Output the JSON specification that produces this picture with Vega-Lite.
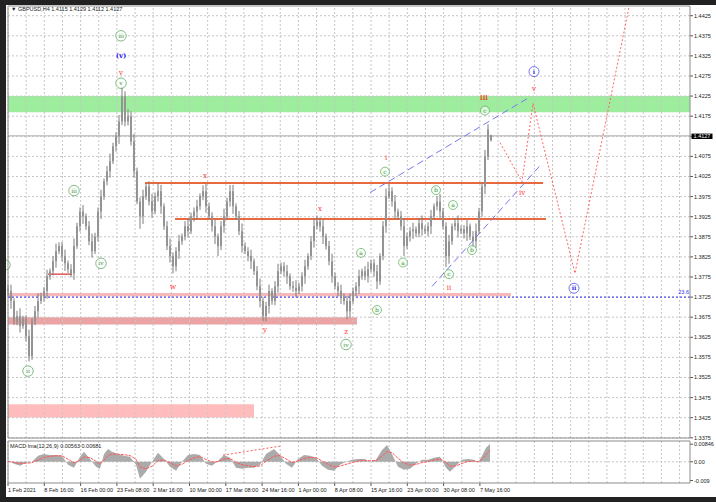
{
"$schema": "https://vega.github.io/schema/vega-lite/v6.json",
"width": 710, "height": 492,
"autosize": {"type": "none"},
"padding": {"left": 6, "top": 5, "right": 0, "bottom": 5},
"background": "#222222",
"config": {"view": {"fill": "#ffffff", "stroke": null}},
"datasets": {
"candles": [
{"i":0,"o":1.3745,"h":1.3755,"l":1.3727,"c":1.374},{"i":3,"o":1.374,"h":1.3756,"l":1.3696,"c":1.3715},{"i":6,"o":1.3715,"h":1.3722,"l":1.3656,"c":1.3665},{"i":9,"o":1.3665,"h":1.3691,"l":1.3655,"c":1.3678},{"i":12,"o":1.3678,"h":1.3697,"l":1.3637,"c":1.3653},{"i":15,"o":1.3653,"h":1.3679,"l":1.3646,"c":1.367},{"i":18,"o":1.367,"h":1.368,"l":1.3615,"c":1.3628},{"i":21,"o":1.3628,"h":1.3644,"l":1.3565,"c":1.3578},{"i":24,"o":1.3578,"h":1.3672,"l":1.3569,"c":1.3665},{"i":27,"o":1.3665,"h":1.3703,"l":1.3655,"c":1.369},
{"i":30,"o":1.369,"h":1.3734,"l":1.3674,"c":1.3715},{"i":33,"o":1.3715,"h":1.3736,"l":1.3708,"c":1.3727},{"i":36,"o":1.3727,"h":1.375,"l":1.3714,"c":1.374},{"i":39,"o":1.374,"h":1.3793,"l":1.3721,"c":1.3777},{"i":42,"o":1.3777,"h":1.3796,"l":1.3768,"c":1.3789},{"i":45,"o":1.3789,"h":1.3827,"l":1.3779,"c":1.3814},{"i":48,"o":1.3814,"h":1.3858,"l":1.3798,"c":1.3839},{"i":51,"o":1.3839,"h":1.3861,"l":1.3832,"c":1.3852},{"i":54,"o":1.3852,"h":1.3862,"l":1.3814,"c":1.3827},{"i":57,"o":1.3827,"h":1.3843,"l":1.379,"c":1.3809},
{"i":60,"o":1.3809,"h":1.3816,"l":1.3785,"c":1.3794},{"i":63,"o":1.3794,"h":1.3807,"l":1.3774,"c":1.3784},{"i":66,"o":1.3784,"h":1.3871,"l":1.3768,"c":1.3852},{"i":69,"o":1.3852,"h":1.391,"l":1.3845,"c":1.3901},{"i":72,"o":1.3901,"h":1.3948,"l":1.3888,"c":1.3938},{"i":75,"o":1.3938,"h":1.3954,"l":1.3907,"c":1.3926},{"i":78,"o":1.3926,"h":1.3933,"l":1.3892,"c":1.3901},{"i":81,"o":1.3901,"h":1.3914,"l":1.3854,"c":1.3864},{"i":84,"o":1.3864,"h":1.3883,"l":1.3823,"c":1.3839},{"i":87,"o":1.3839,"h":1.3885,"l":1.3832,"c":1.3876},
{"i":90,"o":1.3876,"h":1.3948,"l":1.3863,"c":1.3938},{"i":93,"o":1.3938,"h":1.3992,"l":1.3919,"c":1.3976},{"i":96,"o":1.3976,"h":1.402,"l":1.3967,"c":1.4013},{"i":99,"o":1.4013,"h":1.4051,"l":1.4003,"c":1.4038},{"i":102,"o":1.4038,"h":1.4082,"l":1.4022,"c":1.4063},{"i":105,"o":1.4063,"h":1.4109,"l":1.4056,"c":1.41},{"i":108,"o":1.41,"h":1.4135,"l":1.4087,"c":1.4125},{"i":111,"o":1.4125,"h":1.4178,"l":1.4106,"c":1.4162},{"i":114,"o":1.4162,"h":1.4249,"l":1.4153,"c":1.4224},{"i":117,"o":1.4224,"h":1.4237,"l":1.415,"c":1.4162},
{"i":120,"o":1.4162,"h":1.4192,"l":1.4152,"c":1.4174},{"i":123,"o":1.4174,"h":1.4187,"l":1.4102,"c":1.4112},{"i":126,"o":1.4112,"h":1.4131,"l":1.4022,"c":1.4038},{"i":129,"o":1.4038,"h":1.4047,"l":1.3956,"c":1.3963},{"i":132,"o":1.3963,"h":1.3973,"l":1.3895,"c":1.3926},{"i":135,"o":1.3926,"h":1.3992,"l":1.3907,"c":1.3976},{"i":138,"o":1.3976,"h":1.4007,"l":1.3967,"c":1.4},{"i":141,"o":1.4,"h":1.4013,"l":1.3953,"c":1.3963},{"i":144,"o":1.3963,"h":1.3982,"l":1.3922,"c":1.3938},{"i":147,"o":1.3938,"h":1.3985,"l":1.3931,"c":1.3976},
{"i":150,"o":1.3976,"h":1.4008,"l":1.3963,"c":1.3988},{"i":153,"o":1.3988,"h":1.4004,"l":1.3932,"c":1.3951},{"i":156,"o":1.3951,"h":1.3958,"l":1.3892,"c":1.3901},{"i":159,"o":1.3901,"h":1.3914,"l":1.3842,"c":1.3852},{"i":162,"o":1.3852,"h":1.3871,"l":1.3811,"c":1.3827},{"i":165,"o":1.3827,"h":1.3836,"l":1.3784,"c":1.3802},{"i":168,"o":1.3802,"h":1.3849,"l":1.3789,"c":1.3839},{"i":171,"o":1.3839,"h":1.388,"l":1.382,"c":1.3864},{"i":174,"o":1.3864,"h":1.3883,"l":1.3855,"c":1.3876},{"i":177,"o":1.3876,"h":1.3914,"l":1.3866,"c":1.3901},
{"i":180,"o":1.3901,"h":1.392,"l":1.3873,"c":1.3889},{"i":183,"o":1.3889,"h":1.3935,"l":1.3882,"c":1.3926},{"i":186,"o":1.3926,"h":1.3948,"l":1.3913,"c":1.3938},{"i":189,"o":1.3938,"h":1.3967,"l":1.3919,"c":1.3951},{"i":192,"o":1.3951,"h":1.3983,"l":1.3942,"c":1.3976},{"i":195,"o":1.3976,"h":1.4003,"l":1.3966,"c":1.3988},{"i":198,"o":1.3988,"h":1.4007,"l":1.3935,"c":1.3951},{"i":201,"o":1.3951,"h":1.396,"l":1.3919,"c":1.3926},{"i":204,"o":1.3926,"h":1.3936,"l":1.3888,"c":1.3901},{"i":207,"o":1.3901,"h":1.3917,"l":1.3857,"c":1.3876},
{"i":210,"o":1.3876,"h":1.3883,"l":1.3827,"c":1.3852},{"i":213,"o":1.3852,"h":1.3914,"l":1.3842,"c":1.3901},{"i":216,"o":1.3901,"h":1.3945,"l":1.3885,"c":1.3926},{"i":219,"o":1.3926,"h":1.3972,"l":1.3919,"c":1.3963},{"i":222,"o":1.3963,"h":1.4004,"l":1.395,"c":1.3988},{"i":225,"o":1.3988,"h":1.4004,"l":1.3932,"c":1.3951},{"i":228,"o":1.3951,"h":1.3958,"l":1.3917,"c":1.3926},{"i":231,"o":1.3926,"h":1.3939,"l":1.3879,"c":1.3889},{"i":234,"o":1.3889,"h":1.3908,"l":1.3836,"c":1.3852},{"i":237,"o":1.3852,"h":1.3861,"l":1.3832,"c":1.3839},
{"i":240,"o":1.3839,"h":1.3849,"l":1.3814,"c":1.3827},{"i":243,"o":1.3827,"h":1.3843,"l":1.3795,"c":1.3814},{"i":246,"o":1.3814,"h":1.3821,"l":1.378,"c":1.3789},{"i":249,"o":1.3789,"h":1.3802,"l":1.3742,"c":1.3752},{"i":252,"o":1.3752,"h":1.3771,"l":1.3699,"c":1.3715},{"i":255,"o":1.3715,"h":1.3724,"l":1.3665,"c":1.3678},{"i":258,"o":1.3678,"h":1.3713,"l":1.3665,"c":1.3703},{"i":261,"o":1.3703,"h":1.3756,"l":1.3684,"c":1.374},{"i":264,"o":1.374,"h":1.3747,"l":1.3706,"c":1.3715},{"i":267,"o":1.3715,"h":1.3765,"l":1.3705,"c":1.3752},
{"i":270,"o":1.3752,"h":1.3808,"l":1.3736,"c":1.3789},{"i":273,"o":1.3789,"h":1.3811,"l":1.3782,"c":1.3802},{"i":276,"o":1.3802,"h":1.3812,"l":1.3776,"c":1.3789},{"i":279,"o":1.3789,"h":1.3805,"l":1.3758,"c":1.3777},{"i":282,"o":1.3777,"h":1.3784,"l":1.3743,"c":1.3752},{"i":285,"o":1.3752,"h":1.3765,"l":1.3738,"c":1.3748},{"i":288,"o":1.3748,"h":1.3767,"l":1.3724,"c":1.374},{"i":291,"o":1.374,"h":1.3761,"l":1.3733,"c":1.3752},{"i":294,"o":1.3752,"h":1.3787,"l":1.3739,"c":1.3777},{"i":297,"o":1.3777,"h":1.3818,"l":1.3758,"c":1.3802},
{"i":300,"o":1.3802,"h":1.3834,"l":1.3793,"c":1.3827},{"i":303,"o":1.3827,"h":1.3877,"l":1.3817,"c":1.3864},{"i":306,"o":1.3864,"h":1.392,"l":1.3848,"c":1.3901},{"i":309,"o":1.3901,"h":1.3928,"l":1.3894,"c":1.3913},{"i":312,"o":1.3913,"h":1.3923,"l":1.3888,"c":1.3901},{"i":315,"o":1.3901,"h":1.3917,"l":1.3857,"c":1.3876},{"i":318,"o":1.3876,"h":1.3883,"l":1.3843,"c":1.3852},{"i":321,"o":1.3852,"h":1.3865,"l":1.3804,"c":1.3814},{"i":324,"o":1.3814,"h":1.3833,"l":1.3761,"c":1.3777},{"i":327,"o":1.3777,"h":1.3786,"l":1.3745,"c":1.3752},
{"i":330,"o":1.3752,"h":1.3762,"l":1.3727,"c":1.374},{"i":333,"o":1.374,"h":1.3756,"l":1.3708,"c":1.3727},{"i":336,"o":1.3727,"h":1.3734,"l":1.3706,"c":1.3715},{"i":339,"o":1.3715,"h":1.3728,"l":1.367,"c":1.369},{"i":342,"o":1.369,"h":1.3734,"l":1.3674,"c":1.3715},{"i":345,"o":1.3715,"h":1.3749,"l":1.3708,"c":1.374},{"i":348,"o":1.374,"h":1.3762,"l":1.3727,"c":1.3752},{"i":351,"o":1.3752,"h":1.3793,"l":1.3733,"c":1.3777},{"i":354,"o":1.3777,"h":1.3796,"l":1.3768,"c":1.3789},{"i":357,"o":1.3789,"h":1.3802,"l":1.3767,"c":1.3777},
{"i":360,"o":1.3777,"h":1.3813,"l":1.3761,"c":1.3794},{"i":363,"o":1.3794,"h":1.3818,"l":1.3787,"c":1.3809},{"i":366,"o":1.3809,"h":1.3819,"l":1.3776,"c":1.3789},{"i":369,"o":1.3789,"h":1.3805,"l":1.3745,"c":1.3764},{"i":372,"o":1.3764,"h":1.3834,"l":1.3755,"c":1.3827},{"i":375,"o":1.3827,"h":1.3914,"l":1.3817,"c":1.3901},{"i":378,"o":1.3901,"h":1.3995,"l":1.3885,"c":1.3976},{"i":381,"o":1.3976,"h":1.4006,"l":1.3969,"c":1.3988},{"i":384,"o":1.3988,"h":1.3998,"l":1.395,"c":1.3963},{"i":387,"o":1.3963,"h":1.3979,"l":1.3919,"c":1.3938},
{"i":390,"o":1.3938,"h":1.3945,"l":1.3917,"c":1.3926},{"i":393,"o":1.3926,"h":1.3939,"l":1.3891,"c":1.3901},{"i":396,"o":1.3901,"h":1.392,"l":1.3827,"c":1.3852},{"i":399,"o":1.3852,"h":1.3885,"l":1.3845,"c":1.3876},{"i":402,"o":1.3876,"h":1.3899,"l":1.3863,"c":1.3889},{"i":405,"o":1.3889,"h":1.391,"l":1.387,"c":1.3894},{"i":408,"o":1.3894,"h":1.3901,"l":1.3875,"c":1.3884},{"i":411,"o":1.3884,"h":1.3922,"l":1.3874,"c":1.3909},{"i":414,"o":1.3909,"h":1.3928,"l":1.3878,"c":1.3894},{"i":417,"o":1.3894,"h":1.3903,"l":1.3882,"c":1.3889},
{"i":420,"o":1.3889,"h":1.3911,"l":1.3876,"c":1.3901},{"i":423,"o":1.3901,"h":1.3942,"l":1.3882,"c":1.3926},{"i":426,"o":1.3926,"h":1.3958,"l":1.3917,"c":1.3951},{"i":429,"o":1.3951,"h":1.3976,"l":1.3941,"c":1.3963},{"i":432,"o":1.3963,"h":1.3982,"l":1.3922,"c":1.3938},{"i":435,"o":1.3938,"h":1.3947,"l":1.3894,"c":1.3901},{"i":438,"o":1.3901,"h":1.3911,"l":1.38,"c":1.3827},{"i":441,"o":1.3827,"h":1.388,"l":1.3808,"c":1.3864},{"i":444,"o":1.3864,"h":1.3908,"l":1.3855,"c":1.3901},{"i":447,"o":1.3901,"h":1.3922,"l":1.3891,"c":1.3909},
{"i":450,"o":1.3909,"h":1.3928,"l":1.3873,"c":1.3889},{"i":453,"o":1.3889,"h":1.3903,"l":1.3882,"c":1.3894},{"i":456,"o":1.3894,"h":1.3904,"l":1.3871,"c":1.3884},{"i":459,"o":1.3884,"h":1.3917,"l":1.3865,"c":1.3901},{"i":462,"o":1.3901,"h":1.3908,"l":1.3867,"c":1.3876},{"i":465,"o":1.3876,"h":1.3889,"l":1.3849,"c":1.3864},{"i":468,"o":1.3864,"h":1.3908,"l":1.3848,"c":1.3889},{"i":471,"o":1.3889,"h":1.3947,"l":1.3882,"c":1.3938},{"i":474,"o":1.3938,"h":1.401,"l":1.3925,"c":1.4},{"i":477,"o":1.4,"h":1.4091,"l":1.3981,"c":1.4075},
{"i":480,"o":1.4075,"h":1.4155,"l":1.4066,"c":1.4142},{"i":483,"o":1.4115,"h":1.4129,"l":1.4112,"c":1.4127}
],
"macd": [
{"i":0,"h":0.0005,"s":0.0002},{"i":6,"h":-0.001,"s":-0.0003},{"i":12,"h":-0.0019,"s":-0.0009},{"i":18,"h":-0.0005,"s":-0.0007},{"i":24,"h":0,"s":-0.0004},{"i":30,"h":0.0029,"s":0.0009},{"i":36,"h":0.0038,"s":0.0021},{"i":42,"h":0.0033,"s":0.0026},{"i":48,"h":0.0033,"s":0.0029},{"i":54,"h":0.0029,"s":0.0029},
{"i":60,"h":-0.0014,"s":0.0012},{"i":66,"h":-0.0029,"s":-0.0005},{"i":72,"h":0.0024,"s":0.0007},{"i":76,"h":0.0048,"s":0.0023},{"i":82,"h":0.0014,"s":0.002},{"i":88,"h":-0.0024,"s":0.0002},{"i":92,"h":-0.0033,"s":-0.0012},{"i":96,"h":0.0038,"s":0.0008},{"i":100,"h":0.0062,"s":0.003},{"i":104,"h":0.0048,"s":0.0037},
{"i":110,"h":0.0038,"s":0.0037},{"i":116,"h":0.0029,"s":0.0034},{"i":122,"h":0.0024,"s":0.003},{"i":128,"h":-0.0014,"s":0.0012},{"i":132,"h":-0.0081,"s":-0.0025},{"i":138,"h":-0.0048,"s":-0.0034},{"i":144,"h":0,"s":-0.0021},{"i":150,"h":0.0043,"s":0.0005},{"i":156,"h":0.0014,"s":0.0009},{"i":162,"h":-0.0024,"s":-0.0004},
{"i":168,"h":-0.0043,"s":-0.002},{"i":174,"h":0,"s":-0.0012},{"i":180,"h":0.0033,"s":0.0006},{"i":186,"h":0.0038,"s":0.0019},{"i":192,"h":0.0033,"s":0.0025},{"i":198,"h":-0.001,"s":0.0011},{"i":204,"h":-0.0019,"s":-0.0001},{"i":210,"h":0.0005,"s":0.0001},{"i":216,"h":0.0033,"s":0.0014},{"i":222,"h":0.0019,"s":0.0016},
{"i":228,"h":-0.0029,"s":-0.0002},{"i":234,"h":-0.0033,"s":-0.0014},{"i":240,"h":-0.0029,"s":-0.002},{"i":246,"h":-0.0029,"s":-0.0023},{"i":252,"h":-0.0014,"s":-0.002},{"i":258,"h":0.0038,"s":0.0003},{"i":266,"h":0.0062,"s":0.0027},{"i":272,"h":0.0033,"s":0.003},{"i":278,"h":-0.001,"s":0.0014},{"i":284,"h":-0.0029,"s":-0.0003},
{"i":290,"h":0.0014,"s":0.0004},{"i":296,"h":0.0033,"s":0.0016},{"i":302,"h":0.0029,"s":0.0021},{"i":308,"h":0.0019,"s":0.002},{"i":314,"h":-0.0019,"s":0.0004},{"i":320,"h":-0.0038,"s":-0.0012},{"i":326,"h":-0.0043,"s":-0.0025},{"i":332,"h":-0.0014,"s":-0.0021},{"i":338,"h":0,"s":-0.0012},{"i":344,"h":0.001,"s":-0.0004},
{"i":350,"h":0.0014,"s":0.0003},{"i":356,"h":0.0014,"s":0.0008},{"i":362,"h":0,"s":0.0005},{"i":368,"h":0.001,"s":0.0007},{"i":374,"h":0.0057,"s":0.0027},{"i":379,"h":0.0081,"s":0.0049},{"i":384,"h":0.0038,"s":0.0044},{"i":390,"h":-0.0024,"s":0.0017},{"i":396,"h":-0.0038,"s":-0.0005},{"i":402,"h":-0.0033,"s":-0.0016},
{"i":408,"h":-0.001,"s":-0.0013},{"i":414,"h":0.001,"s":-0.0004},{"i":420,"h":0.001,"s":0.0001},{"i":426,"h":0.0019,"s":0.0009},{"i":432,"h":0.0024,"s":0.0015},{"i":438,"h":-0.0029,"s":-0.0002},{"i":442,"h":-0.0048,"s":-0.0021},{"i":448,"h":-0.0019,"s":-0.002},{"i":454,"h":0.001,"s":-0.0008},{"i":460,"h":0.0014,"s":0.0001},
{"i":466,"h":0.001,"s":0.0004},{"i":470,"h":-0.0005,"s":0},{"i":474,"h":0.0029,"s":0.0012},{"i":478,"h":0.0067,"s":0.0034},{"i":482,"h":0.0085,"s":0.0055}
],
"hgrid": [{"p":1.3375},{"p":1.3425},{"p":1.3475},{"p":1.3525},{"p":1.3575},{"p":1.3625},{"p":1.3675},{"p":1.3725},{"p":1.3775},{"p":1.3825},{"p":1.3875},{"p":1.3925},{"p":1.3975},{"p":1.4025},{"p":1.4075},{"p":1.4125},{"p":1.4175},{"p":1.4225},{"p":1.4275},{"p":1.4325},{"p":1.4375},{"p":1.4425}],
"vgrid": [{"g":0},{"g":18.15},{"g":36.3},{"g":54.45},{"g":72.6},{"g":90.75},{"g":108.9},{"g":127.05},{"g":145.2},{"g":163.35},{"g":181.5},{"g":199.65},{"g":217.8},{"g":235.95},{"g":254.1},{"g":272.25},{"g":290.4},{"g":308.55},{"g":326.7},{"g":344.85},{"g":363},{"g":381.15},{"g":399.3},{"g":417.45},{"g":435.6},{"g":453.75},{"g":471.9},{"g":490.05},{"g":508.2},{"g":526.35},{"g":544.5},{"g":562.65},{"g":580.8},{"g":598.95},{"g":617.1},{"g":635.25},{"g":653.4},{"g":671.55}],
"dates": [{"i":0,"t":"1 Feb 2021"},{"i":36.3,"t":"8 Feb 16:00"},{"i":72.6,"t":"16 Feb 00:00"},{"i":108.9,"t":"23 Feb 08:00"},{"i":145.2,"t":"2 Mar 16:00"},{"i":181.5,"t":"10 Mar 00:00"},{"i":217.8,"t":"17 Mar 08:00"},{"i":254.1,"t":"24 Mar 16:00"},{"i":290.4,"t":"1 Apr 00:00"},{"i":326.7,"t":"8 Apr 08:00"},{"i":363,"t":"15 Apr 16:00"},{"i":399.3,"t":"23 Apr 00:00"},{"i":435.6,"t":"30 Apr 08:00"},{"i":471.9,"t":"7 May 16:00"}],
"macdlab": [{"v":0.00846,"t":"0.00846"},{"v":0,"t":"0.00"},{"v":-0.009,"t":"-0.009"}],
"bands": [{"b":"green","x1":0,"x2":682,"p1":1.4185,"p2":1.4225},{"b":"pink1","x1":0,"x2":503,"p1":1.3727,"p2":1.3735},{"b":"pink2","x1":0,"x2":349,"p1":1.3657,"p2":1.3675},{"b":"pink3","x1":0,"x2":246,"p1":1.34252,"p2":1.34585}],
"orange": [{"x1":137,"x2":535,"p":1.4009},{"x1":167,"x2":538,"p":1.3919}],
"redline": [{"x1":40,"x2":64,"p":1.3782}],
"grayline": [{"x1":0,"x2":682,"p":1.4126}],
"fib": [{"x1":0,"x2":682,"p":1.3725}],
"chan": [{"x1":362,"p1":1.3985,"x2":519,"p2":1.42185},{"x1":424,"p1":1.37516,"x2":534,"p2":1.40576}],
"proj": [{"i":492,"p":1.4109},{"i":514,"p":1.4012},{"i":525,"p":1.4207},{"i":567,"p":1.3784},{"i":621,"p":1.4446}],
"gbig": [{"i":113,"p":1.4375,"t":"iii"},{"i":113,"p":1.4257,"t":"v"},{"i":20,"p":1.3541,"t":"ii"},{"i":66,"p":1.399,"t":"iii"},{"i":93,"p":1.3809,"t":"iv"},{"i":338,"p":1.3607,"t":"iv"},{"i":-3,"p":1.3805,"t":"i"}],
"gsmall": [{"i":353,"p":1.3835,"t":"a"},{"i":369,"p":1.3693,"t":"b"},{"i":377,"p":1.4037,"t":"c"},{"i":395,"p":1.3811,"t":"a"},{"i":428,"p":1.3991,"t":"b"},{"i":445,"p":1.3954,"t":"a"},{"i":441,"p":1.3782,"t":"c"},{"i":464,"p":1.3842,"t":"b"},{"i":477,"p":1.4189,"t":"c"}],
"bcirc": [{"i":526,"p":1.4286,"t":"i"},{"i":566,"p":1.3747,"t":"ii"}],
"rlab": [{"i":197,"p":1.4027,"t":"x"},{"i":312,"p":1.3944,"t":"x"},{"i":165,"p":1.3749,"t":"w"},{"i":257,"p":1.3643,"t":"y"},{"i":338,"p":1.3637,"t":"z"},{"i":378,"p":1.407,"t":"i"},{"i":514,"p":1.3983,"t":"iv"},{"i":526,"p":1.4243,"t":"v"},{"i":113,"p":1.4283,"t":"v"},{"i":441,"p":1.3748,"t":"ii"}],
"divg": [{"i":215,"v":0.0032},{"i":272,"v":0.0075}]
},
"resolve": {"scale": {"y": "independent"}},
"layer": [
{"layer": [
{"data": {"name": "bands"}, "mark": {"type": "rect"},
 "encoding": {"x": {"field": "x1", "type": "quantitative", "scale": {"domain": [-2, 708], "nice": false, "zero": false, "padding": 0}, "axis": null}, "x2": {"field": "x2"},
  "y": {"field": "p1", "type": "quantitative", "scale": {"domain": [1.322774, 1.445159], "nice": false, "zero": false}, "axis": null}, "y2": {"field": "p2"},
  "color": {"field": "b", "type": "nominal", "scale": {"domain": ["green", "pink1", "pink2", "pink3"], "range": ["#9eec9e", "#f6b8b8", "#eaa4a4", "#ffbcbc"]}, "legend": null}}},
{"data": {"name": "hgrid"}, "mark": {"type": "rule", "color": "#c6c6c6", "strokeDash": [2, 2], "strokeWidth": 1},
 "encoding": {"x": {"datum": 0, "type": "quantitative", "scale": {"domain": [-2, 708], "nice": false, "zero": false, "padding": 0}, "axis": null}, "x2": {"datum": 682},
  "y": {"field": "p", "type": "quantitative", "scale": {"domain": [1.322774, 1.445159], "nice": false, "zero": false}, "axis": null}}},
{"data": {"name": "hgrid"}, "mark": {"type": "rule", "color": "#555555", "strokeWidth": 1},
 "encoding": {"x": {"datum": 682, "type": "quantitative", "scale": {"domain": [-2, 708], "nice": false, "zero": false, "padding": 0}, "axis": null}, "x2": {"datum": 685},
  "y": {"field": "p", "type": "quantitative", "scale": {"domain": [1.322774, 1.445159], "nice": false, "zero": false}, "axis": null}}},
{"data": {"name": "hgrid"}, "transform": [{"filter": "datum.p != 1.4125"}], "mark": {"type": "text", "color": "#1a1a1a", "font": "Liberation Sans", "fontSize": 5.5, "baseline": "middle", "align": "left"},
 "encoding": {"x": {"datum": 686, "type": "quantitative", "scale": {"domain": [-2, 708], "nice": false, "zero": false, "padding": 0}, "axis": null},
  "y": {"field": "p", "type": "quantitative", "scale": {"domain": [1.322774, 1.445159], "nice": false, "zero": false}, "axis": null},
  "text": {"field": "p", "type": "quantitative", "format": ".4f"}}},
{"data": {"name": "vgrid"}, "mark": {"type": "rule", "color": "#c6c6c6", "strokeDash": [2, 2], "strokeWidth": 1},
 "encoding": {"x": {"field": "g", "type": "quantitative", "scale": {"domain": [-2, 708], "nice": false, "zero": false, "padding": 0}, "axis": null},
  "y": {"datum": 1.33745, "type": "quantitative", "scale": {"domain": [1.322774, 1.445159], "nice": false, "zero": false}, "axis": null}, "y2": {"datum": 1.44491}}},
{"data": {"name": "fib"}, "mark": {"type": "rule", "color": "#3030ff", "strokeDash": [2, 2], "strokeWidth": 1},
 "encoding": {"x": {"field": "x1", "type": "quantitative", "scale": {"domain": [-2, 708], "nice": false, "zero": false, "padding": 0}, "axis": null}, "x2": {"field": "x2"},
  "y": {"field": "p", "type": "quantitative", "scale": {"domain": [1.322774, 1.445159], "nice": false, "zero": false}, "axis": null}}},
{"data": {"name": "grayline"}, "mark": {"type": "rule", "color": "#a9a9a9", "strokeWidth": 1},
 "encoding": {"x": {"field": "x1", "type": "quantitative", "scale": {"domain": [-2, 708], "nice": false, "zero": false, "padding": 0}, "axis": null}, "x2": {"field": "x2"},
  "y": {"field": "p", "type": "quantitative", "scale": {"domain": [1.322774, 1.445159], "nice": false, "zero": false}, "axis": null}}},
{"data": {"name": "orange"}, "mark": {"type": "rule", "color": "#e9693f", "strokeWidth": 2},
 "encoding": {"x": {"field": "x1", "type": "quantitative", "scale": {"domain": [-2, 708], "nice": false, "zero": false, "padding": 0}, "axis": null}, "x2": {"field": "x2"},
  "y": {"field": "p", "type": "quantitative", "scale": {"domain": [1.322774, 1.445159], "nice": false, "zero": false}, "axis": null}}},
{"data": {"name": "redline"}, "mark": {"type": "rule", "color": "#e05555", "strokeWidth": 1.5},
 "encoding": {"x": {"field": "x1", "type": "quantitative", "scale": {"domain": [-2, 708], "nice": false, "zero": false, "padding": 0}, "axis": null}, "x2": {"field": "x2"},
  "y": {"field": "p", "type": "quantitative", "scale": {"domain": [1.322774, 1.445159], "nice": false, "zero": false}, "axis": null}}},
{"data": {"name": "candles"}, "mark": {"type": "rule", "color": "#7c7c7c", "strokeWidth": 1},
 "encoding": {"x": {"field": "i", "type": "quantitative", "scale": {"domain": [-2, 708], "nice": false, "zero": false, "padding": 0}, "axis": null},
  "y": {"field": "l", "type": "quantitative", "scale": {"domain": [1.322774, 1.445159], "nice": false, "zero": false}, "axis": null}, "y2": {"field": "h"}}},
{"data": {"name": "candles"}, "mark": {"type": "bar", "width": 2, "color": "#949494"},
 "encoding": {"x": {"field": "i", "type": "quantitative", "scale": {"domain": [-2, 708], "nice": false, "zero": false, "padding": 0}, "axis": null},
  "y": {"field": "o", "type": "quantitative", "scale": {"domain": [1.322774, 1.445159], "nice": false, "zero": false}, "axis": null}, "y2": {"field": "c"}}},
{"data": {"name": "chan"}, "mark": {"type": "rule", "color": "#7878f0", "strokeDash": [7, 4], "strokeWidth": 1},
 "encoding": {"x": {"field": "x1", "type": "quantitative", "scale": {"domain": [-2, 708], "nice": false, "zero": false, "padding": 0}, "axis": null}, "x2": {"field": "x2"},
  "y": {"field": "p1", "type": "quantitative", "scale": {"domain": [1.322774, 1.445159], "nice": false, "zero": false}, "axis": null}, "y2": {"field": "p2"}}},
{"data": {"name": "proj"}, "mark": {"type": "line", "color": "#ff6464", "strokeDash": [2, 2], "strokeWidth": 1},
 "encoding": {"x": {"field": "i", "type": "quantitative", "scale": {"domain": [-2, 708], "nice": false, "zero": false, "padding": 0}, "axis": null},
  "y": {"field": "p", "type": "quantitative", "scale": {"domain": [1.322774, 1.445159], "nice": false, "zero": false}, "axis": null}}},
{"data": {"name": "gbig"}, "mark": {"type": "point", "shape": "circle", "filled": true, "fill": "#ffffff", "stroke": "#4ea04e", "strokeWidth": 1, "size": 110, "clip": true},
 "encoding": {"x": {"field": "i", "type": "quantitative", "scale": {"domain": [-2, 708], "nice": false, "zero": false, "padding": 0}, "axis": null},
  "y": {"field": "p", "type": "quantitative", "scale": {"domain": [1.322774, 1.445159], "nice": false, "zero": false}, "axis": null}}},
{"data": {"name": "gbig"}, "mark": {"type": "text", "color": "#3d8f3d", "font": "DejaVu Serif", "fontSize": 6, "baseline": "middle", "align": "center", "clip": true},
 "encoding": {"x": {"field": "i", "type": "quantitative", "scale": {"domain": [-2, 708], "nice": false, "zero": false, "padding": 0}, "axis": null},
  "y": {"field": "p", "type": "quantitative", "scale": {"domain": [1.322774, 1.445159], "nice": false, "zero": false}, "axis": null}, "text": {"field": "t"}}},
{"data": {"name": "gsmall"}, "mark": {"type": "point", "shape": "circle", "filled": true, "fill": "#f4fff4", "stroke": "#55a855", "strokeWidth": 1, "size": 80},
 "encoding": {"x": {"field": "i", "type": "quantitative", "scale": {"domain": [-2, 708], "nice": false, "zero": false, "padding": 0}, "axis": null},
  "y": {"field": "p", "type": "quantitative", "scale": {"domain": [1.322774, 1.445159], "nice": false, "zero": false}, "axis": null}}},
{"data": {"name": "gsmall"}, "mark": {"type": "text", "color": "#3d8f3d", "font": "DejaVu Serif", "fontSize": 6, "baseline": "middle", "align": "center"},
 "encoding": {"x": {"field": "i", "type": "quantitative", "scale": {"domain": [-2, 708], "nice": false, "zero": false, "padding": 0}, "axis": null},
  "y": {"field": "p", "type": "quantitative", "scale": {"domain": [1.322774, 1.445159], "nice": false, "zero": false}, "axis": null}, "text": {"field": "t"}}},
{"data": {"name": "bcirc"}, "mark": {"type": "point", "shape": "circle", "filled": true, "fill": "#ffffff", "stroke": "#3a3af0", "strokeWidth": 1, "size": 100},
 "encoding": {"x": {"field": "i", "type": "quantitative", "scale": {"domain": [-2, 708], "nice": false, "zero": false, "padding": 0}, "axis": null},
  "y": {"field": "p", "type": "quantitative", "scale": {"domain": [1.322774, 1.445159], "nice": false, "zero": false}, "axis": null}}},
{"data": {"name": "bcirc"}, "mark": {"type": "text", "color": "#2a2ae8", "font": "DejaVu Serif", "fontSize": 6, "fontWeight": "bold", "baseline": "middle", "align": "center"},
 "encoding": {"x": {"field": "i", "type": "quantitative", "scale": {"domain": [-2, 708], "nice": false, "zero": false, "padding": 0}, "axis": null},
  "y": {"field": "p", "type": "quantitative", "scale": {"domain": [1.322774, 1.445159], "nice": false, "zero": false}, "axis": null}, "text": {"field": "t"}}},
{"data": {"name": "rlab"}, "mark": {"type": "text", "color": "#ff3030", "font": "DejaVu Serif", "fontSize": 7, "baseline": "middle", "align": "center"},
 "encoding": {"x": {"field": "i", "type": "quantitative", "scale": {"domain": [-2, 708], "nice": false, "zero": false, "padding": 0}, "axis": null},
  "y": {"field": "p", "type": "quantitative", "scale": {"domain": [1.322774, 1.445159], "nice": false, "zero": false}, "axis": null}, "text": {"field": "t"}}},
{"data": {"values": [{"i": 476, "p": 1.422, "t": "iii"}]}, "mark": {"type": "text", "color": "#e8501a", "font": "DejaVu Serif", "fontSize": 7, "fontWeight": "bold", "baseline": "middle", "align": "center"},
 "encoding": {"x": {"field": "i", "type": "quantitative", "scale": {"domain": [-2, 708], "nice": false, "zero": false, "padding": 0}, "axis": null},
  "y": {"field": "p", "type": "quantitative", "scale": {"domain": [1.322774, 1.445159], "nice": false, "zero": false}, "axis": null}, "text": {"field": "t"}}},
{"data": {"values": [{"i": 113, "p": 1.4325, "t": "(v)"}]}, "mark": {"type": "text", "color": "#2a2af0", "font": "DejaVu Serif", "fontSize": 7, "fontWeight": "bold", "baseline": "middle", "align": "center"},
 "encoding": {"x": {"field": "i", "type": "quantitative", "scale": {"domain": [-2, 708], "nice": false, "zero": false, "padding": 0}, "axis": null},
  "y": {"field": "p", "type": "quantitative", "scale": {"domain": [1.322774, 1.445159], "nice": false, "zero": false}, "axis": null}, "text": {"field": "t"}}},
{"data": {"values": [{"i": 681, "p": 1.3737, "t": "23.6"}]}, "mark": {"type": "text", "color": "#3030ff", "font": "Liberation Sans", "fontSize": 5.5, "baseline": "middle", "align": "right"},
 "encoding": {"x": {"field": "i", "type": "quantitative", "scale": {"domain": [-2, 708], "nice": false, "zero": false, "padding": 0}, "axis": null},
  "y": {"field": "p", "type": "quantitative", "scale": {"domain": [1.322774, 1.445159], "nice": false, "zero": false}, "axis": null}, "text": {"field": "t"}}},
{"data": {"values": [{"i": 3, "p": 1.4441, "t": "▼  GBPUSD,H4  1.4115 1.4129 1.4112 1.4127"}]}, "mark": {"type": "text", "color": "#222222", "font": "Liberation Sans", "fontSize": 5.5, "baseline": "middle", "align": "left"},
 "encoding": {"x": {"field": "i", "type": "quantitative", "scale": {"domain": [-2, 708], "nice": false, "zero": false, "padding": 0}, "axis": null},
  "y": {"field": "p", "type": "quantitative", "scale": {"domain": [1.322774, 1.445159], "nice": false, "zero": false}, "axis": null}, "text": {"field": "t"}}},
{"data": {"values": [{"a": 683.5, "b": 704.5, "p1": 1.41183, "p2": 1.41317}]}, "mark": {"type": "rect", "color": "#000000"},
 "encoding": {"x": {"field": "a", "type": "quantitative", "scale": {"domain": [-2, 708], "nice": false, "zero": false, "padding": 0}, "axis": null}, "x2": {"field": "b"},
  "y": {"field": "p1", "type": "quantitative", "scale": {"domain": [1.322774, 1.445159], "nice": false, "zero": false}, "axis": null}, "y2": {"field": "p2"}}},
{"data": {"values": [{"i": 694, "p": 1.4125, "t": "1.4127"}]}, "mark": {"type": "text", "color": "#ffffff", "font": "Liberation Sans", "fontSize": 5.5, "baseline": "middle", "align": "center"},
 "encoding": {"x": {"field": "i", "type": "quantitative", "scale": {"domain": [-2, 708], "nice": false, "zero": false, "padding": 0}, "axis": null},
  "y": {"field": "p", "type": "quantitative", "scale": {"domain": [1.322774, 1.445159], "nice": false, "zero": false}, "axis": null}, "text": {"field": "t"}}},
{"data": {"values": [{}]}, "mark": {"type": "rect", "fillOpacity": 0, "fill": "#ffffff", "stroke": "#8c8c8c", "strokeWidth": 1},
 "encoding": {"x": {"datum": 0, "type": "quantitative", "scale": {"domain": [-2, 708], "nice": false, "zero": false, "padding": 0}, "axis": null}, "x2": {"datum": 682},
  "y": {"datum": 1.33745, "type": "quantitative", "scale": {"domain": [1.322774, 1.445159], "nice": false, "zero": false}, "axis": null}, "y2": {"datum": 1.44491}}}
]},
{"layer": [
{"data": {"name": "vgrid"}, "mark": {"type": "rule", "color": "#c6c6c6", "strokeDash": [2, 2], "strokeWidth": 1},
 "encoding": {"x": {"field": "g", "type": "quantitative", "scale": {"domain": [-2, 708], "nice": false, "zero": false, "padding": 0}, "axis": null},
  "y": {"datum": -0.0102, "type": "quantitative", "scale": {"domain": [-0.016933, 0.219697], "nice": false, "zero": false}, "axis": null}, "y2": {"datum": 0.01}}},
{"data": {"values": [{}]}, "mark": {"type": "rule", "color": "#c6c6c6", "strokeDash": [2, 2], "strokeWidth": 1},
 "encoding": {"x": {"datum": 0, "type": "quantitative", "scale": {"domain": [-2, 708], "nice": false, "zero": false, "padding": 0}, "axis": null}, "x2": {"datum": 682},
  "y": {"datum": 0, "type": "quantitative", "scale": {"domain": [-0.016933, 0.219697], "nice": false, "zero": false}, "axis": null}}},
{"data": {"name": "macd"}, "mark": {"type": "area", "color": "#ababab"},
 "encoding": {"x": {"field": "i", "type": "quantitative", "scale": {"domain": [-2, 708], "nice": false, "zero": false, "padding": 0}, "axis": null},
  "y": {"field": "h", "type": "quantitative", "scale": {"domain": [-0.016933, 0.219697], "nice": false, "zero": false}, "axis": null}, "y2": {"datum": 0}}},
{"data": {"name": "macd"}, "mark": {"type": "line", "color": "#ff5a5a", "strokeDash": [3, 1], "strokeWidth": 1},
 "encoding": {"x": {"field": "i", "type": "quantitative", "scale": {"domain": [-2, 708], "nice": false, "zero": false, "padding": 0}, "axis": null},
  "y": {"field": "s", "type": "quantitative", "scale": {"domain": [-0.016933, 0.219697], "nice": false, "zero": false}, "axis": null}}},
{"data": {"name": "divg"}, "mark": {"type": "line", "color": "#ff5a5a", "strokeDash": [2, 2], "strokeWidth": 1},
 "encoding": {"x": {"field": "i", "type": "quantitative", "scale": {"domain": [-2, 708], "nice": false, "zero": false, "padding": 0}, "axis": null},
  "y": {"field": "v", "type": "quantitative", "scale": {"domain": [-0.016933, 0.219697], "nice": false, "zero": false}, "axis": null}}},
{"data": {"values": [{"i": 2, "v": 0.0077, "t": "MACD lma(12,26,9) 0.00563 0.00681"}]}, "mark": {"type": "text", "color": "#222222", "font": "Liberation Sans", "fontSize": 5.5, "baseline": "middle", "align": "left"},
 "encoding": {"x": {"field": "i", "type": "quantitative", "scale": {"domain": [-2, 708], "nice": false, "zero": false, "padding": 0}, "axis": null},
  "y": {"field": "v", "type": "quantitative", "scale": {"domain": [-0.016933, 0.219697], "nice": false, "zero": false}, "axis": null}, "text": {"field": "t"}}},
{"data": {"name": "macdlab"}, "mark": {"type": "rule", "color": "#555555", "strokeWidth": 1},
 "encoding": {"x": {"datum": 682, "type": "quantitative", "scale": {"domain": [-2, 708], "nice": false, "zero": false, "padding": 0}, "axis": null}, "x2": {"datum": 685},
  "y": {"field": "v", "type": "quantitative", "scale": {"domain": [-0.016933, 0.219697], "nice": false, "zero": false}, "axis": null}}},
{"data": {"name": "macdlab"}, "mark": {"type": "text", "color": "#1a1a1a", "font": "Liberation Sans", "fontSize": 5.5, "baseline": "middle", "align": "left"},
 "encoding": {"x": {"datum": 686, "type": "quantitative", "scale": {"domain": [-2, 708], "nice": false, "zero": false, "padding": 0}, "axis": null},
  "y": {"field": "v", "type": "quantitative", "scale": {"domain": [-0.016933, 0.219697], "nice": false, "zero": false}, "axis": null}, "text": {"field": "t"}}},
{"data": {"name": "dates"}, "mark": {"type": "rule", "color": "#555555", "strokeWidth": 1},
 "encoding": {"x": {"field": "i", "type": "quantitative", "scale": {"domain": [-2, 708], "nice": false, "zero": false, "padding": 0}, "axis": null},
  "y": {"datum": -0.0102, "type": "quantitative", "scale": {"domain": [-0.016933, 0.219697], "nice": false, "zero": false}, "axis": null}, "y2": {"datum": -0.011643}}},
{"data": {"name": "dates"}, "mark": {"type": "text", "color": "#1a1a1a", "font": "Liberation Sans", "fontSize": 5.5, "baseline": "middle", "align": "left"},
 "encoding": {"x": {"field": "i", "type": "quantitative", "scale": {"domain": [-2, 708], "nice": false, "zero": false, "padding": 0}, "axis": null},
  "y": {"datum": -0.013566, "type": "quantitative", "scale": {"domain": [-0.016933, 0.219697], "nice": false, "zero": false}, "axis": null}, "text": {"field": "t"}}},
{"data": {"values": [{}]}, "mark": {"type": "rect", "fillOpacity": 0, "fill": "#ffffff", "stroke": "#8c8c8c", "strokeWidth": 1},
 "encoding": {"x": {"datum": 0, "type": "quantitative", "scale": {"domain": [-2, 708], "nice": false, "zero": false, "padding": 0}, "axis": null}, "x2": {"datum": 682},
  "y": {"datum": -0.0102, "type": "quantitative", "scale": {"domain": [-0.016933, 0.219697], "nice": false, "zero": false}, "axis": null}, "y2": {"datum": 0.01}}}
]}
]
}
